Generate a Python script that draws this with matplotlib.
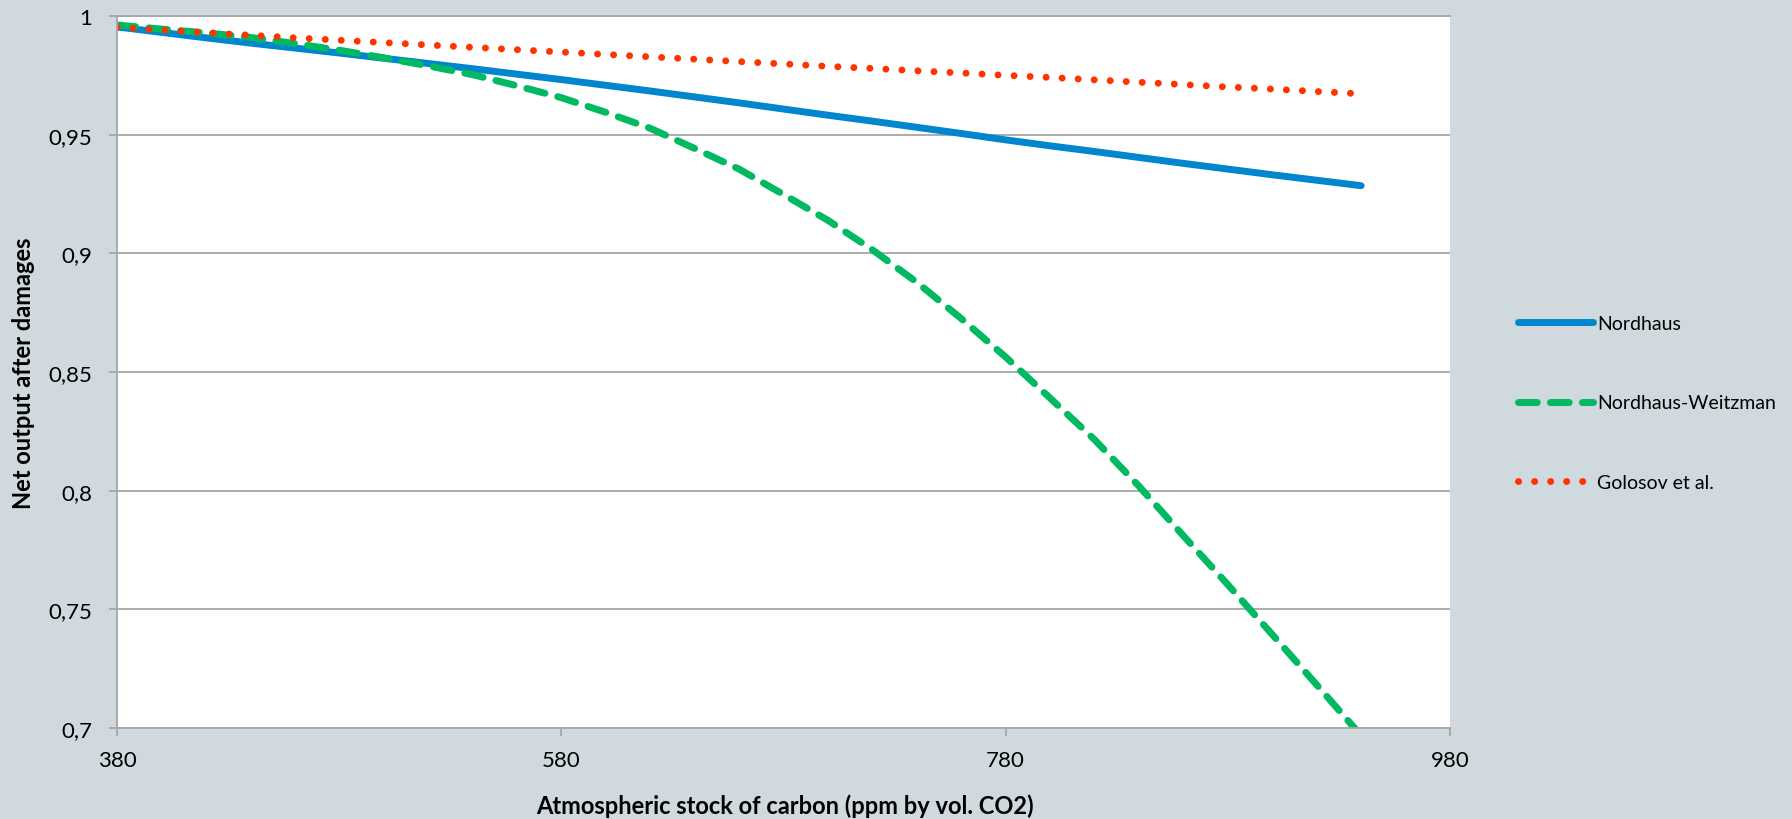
import numpy as np
import matplotlib
matplotlib.use("Agg")
import matplotlib.pyplot as plt
from matplotlib.ticker import FixedLocator, FuncFormatter

# values
carbon = [380, 400, 420, 440, 460, 480, 500, 520, 540, 560, 580, 600, 620, 640, 660,
          680, 700, 720, 740, 760, 780, 800, 820, 840, 860, 880, 900, 920, 940]
nordhaus = [0.9954, 0.9931, 0.9908, 0.9886, 0.9865, 0.9844, 0.9822, 0.9800, 0.9778, 0.9755,
            0.9732, 0.9708, 0.9684, 0.9659, 0.9634, 0.9608, 0.9582, 0.9557, 0.9531, 0.9505,
            0.9478, 0.9453, 0.9429, 0.9404, 0.9379, 0.9355, 0.9331, 0.9308, 0.9285]
nordhaus_weitzman = [0.9962, 0.9945, 0.9929, 0.9910, 0.9884, 0.9856, 0.9824, 0.9790, 0.9753, 0.9706,
                     0.9656, 0.9594, 0.9527, 0.9442, 0.9355, 0.9248, 0.9139, 0.9015, 0.8878, 0.8725,
                     0.8563, 0.8390, 0.8215, 0.8019, 0.7810, 0.7604, 0.7394, 0.7182, 0.6968]
golosov = [0.9952, 0.9941, 0.9930, 0.9919, 0.9908, 0.9898, 0.9888, 0.9878, 0.9868, 0.9858,
           0.9848, 0.9838, 0.9828, 0.9818, 0.9808, 0.9798, 0.9788, 0.9779, 0.9769, 0.9760,
           0.9750, 0.9741, 0.9731, 0.9721, 0.9711, 0.9701, 0.9692, 0.9682, 0.9672]

x_ticks = [380, 580, 780, 980]
y_ticks = [0.7, 0.75, 0.8, 0.85, 0.9, 0.95, 1.0]

plt.rcParams['font.family'] = ['Lato', 'DejaVu Sans']

bg = '#CFD9DE'
grid_col = '#A6A6A6'

fig = plt.figure(figsize=(17.92, 8.2), dpi=100, facecolor=bg)
ax = fig.add_axes([117 / 1792, 1 - 729 / 820, 1333 / 1792, 712 / 820])
ax.set_facecolor('white')

ax.plot(carbon, nordhaus, color='#0086CE', lw=5, solid_capstyle='round', label='Nordhaus')
ax.plot(carbon, nordhaus_weitzman, color='#00B960', lw=5, linestyle=(0, (2.7, 1.9)),
        dash_capstyle='round', label='Nordhaus-Weitzman')
ax.plot(carbon, golosov, color='#FF3300', lw=5, linestyle=(0, (0.01, 2.3)),
        dash_capstyle='round', label='Golosov et al.')

ax.set_xlim(380, 980)
ax.set_ylim(0.7, 1.0)
ax.xaxis.set_major_locator(FixedLocator(x_ticks))
ax.yaxis.set_major_locator(FixedLocator(y_ticks))
ax.yaxis.set_major_formatter(FuncFormatter(lambda v, p: ('%g' % round(v, 2)).replace('.', ',')))

ax.grid(axis='y', color=grid_col, lw=1.3)
ax.set_axisbelow(True)
ax.spines['right'].set_visible(False)
for s in ['left', 'bottom', 'top']:
    ax.spines[s].set_color(grid_col)
    ax.spines[s].set_linewidth(1.3)

ax.tick_params(axis='both', direction='out', length=5.8, width=1.3, color=grid_col,
               labelsize=16, labelcolor='black')
ax.tick_params(axis='y', pad=12)
ax.tick_params(axis='x', pad=10)

ax.set_xlabel('Atmospheric stock of carbon (ppm by vol. CO2)', fontsize=17, fontweight='bold', va='center')
ax.xaxis.set_label_coords((785 - 117) / 1333, (729 - 806) / 712)
ax.set_ylabel('Net output after damages', fontsize=17, fontweight='bold', va='center')
ax.yaxis.set_label_coords((23 - 117) / 1333, 0.5)

ax.legend(loc='center left', bbox_to_anchor=(1518 / 1792, 1 - 404 / 820),
          bbox_transform=fig.transFigure, frameon=False, fontsize=14,
          handlelength=3.87, handletextpad=0.2, labelspacing=3.2,
          borderpad=0, borderaxespad=0)

fig.savefig('out.png', dpi=100, facecolor=bg)
